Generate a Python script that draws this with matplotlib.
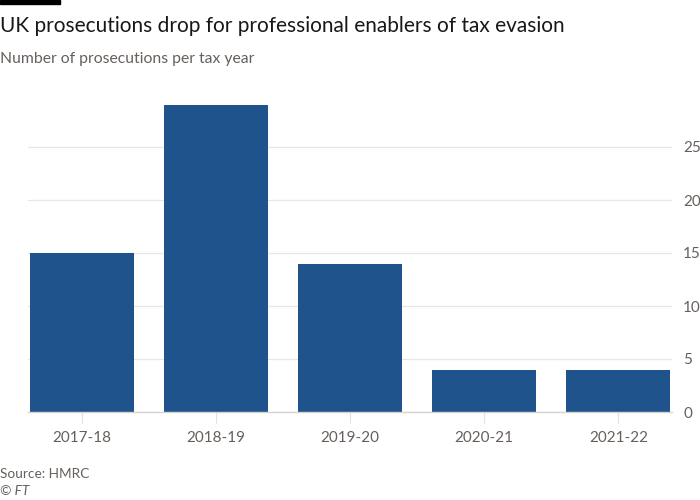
import matplotlib
matplotlib.use('Agg')
import matplotlib.pyplot as plt
from matplotlib.patches import Rectangle

## data
years = ['2017-18', '2018-19', '2019-20', '2020-21', '2021-22']
prosecutions = [15, 29, 14, 4, 4]
yticks = [0, 5, 10, 15, 20, 25]

plt.rcParams['font.family'] = ['Lato', 'DejaVu Sans']

fig = plt.figure(figsize=(7, 5), dpi=100)
fig.patch.set_facecolor('white')
ax = fig.add_axes([0.04, 0.176, 0.92, 0.636])

x = range(len(years))
ax.bar(x, prosecutions, width=0.776, color='#1f538c', zorder=2)

ax.set_xlim(-0.4, len(years) - 0.6)
ax.set_ylim(0, 30)
ax.set_yticks(yticks)
ax.set_xticks(list(x))
ax.set_xticklabels(years)

ax.yaxis.tick_right()
ax.grid(axis='y', color='#ebe6e1', linewidth=0.9, zorder=0)
for s in ['top', 'left', 'right']:
    ax.spines[s].set_visible(False)
ax.spines['bottom'].set_color('#d9d3cc')
ax.spines['bottom'].set_linewidth(1)
ax.spines['bottom'].set_zorder(3)

ax.tick_params(axis='y', length=0, pad=8, labelsize=11, labelcolor='#66605c')
ax.tick_params(axis='x', length=8, color='#e6e0d9', pad=6, labelsize=11, labelcolor='#66605c')

## header / footer
fig.patches.append(Rectangle((0, 0.992), 0.086, 0.008, transform=fig.transFigure, color='black'))
fig.text(0.0, 0.948, 'UK prosecutions drop for professional enablers of tax evasion',
         fontsize=15, color='#1a1817', va='center', ha='left')
fig.text(0.0, 0.883, 'Number of prosecutions per tax year',
         fontsize=11.3, color='#66605c', va='center', ha='left')
fig.text(0.0, 0.052, 'Source: HMRC', fontsize=9.8, color='#66605c', va='center', ha='left')
fig.text(0.0, 0.018, '© FT', fontsize=9.8, color='#66605c', va='center', ha='left', style='italic')

fig.savefig('out.png', dpi=100, facecolor='white')
